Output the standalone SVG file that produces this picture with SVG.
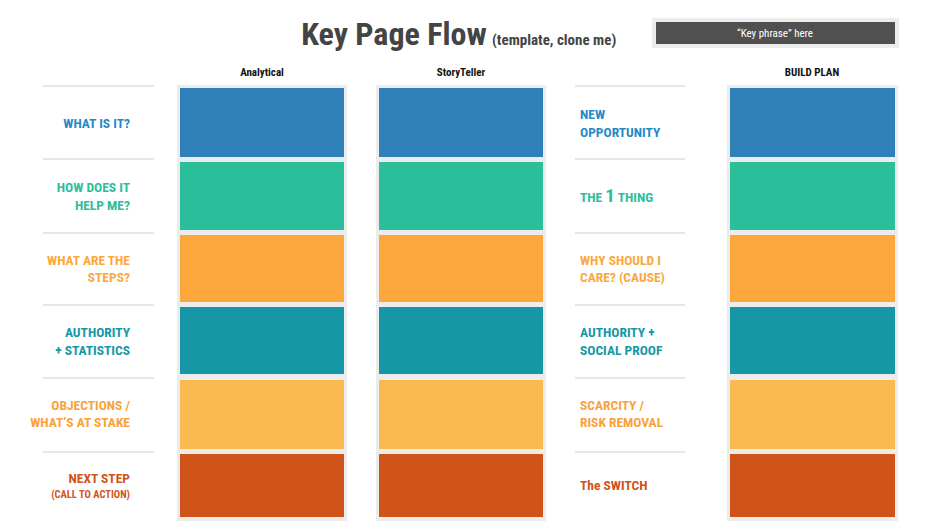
<svg xmlns="http://www.w3.org/2000/svg" width="936" height="525" viewBox="0 0 936 525">
<style>
text{font-family:"Liberation Sans Narrow","Roboto Condensed",Roboto,"Liberation Sans",sans-serif;font-weight:bold}
.sep{stroke:#e6e6e6;stroke-width:2}
.panel{fill:#ececec}
.l{font-size:13.5px;text-anchor:end}
.r{font-size:13.5px}
.h{font-size:11px;text-anchor:middle;fill:#111}
.b{fill:#2F80B8}.g{fill:#2BBE9B}.o{fill:#FBA73C}.t{fill:#1697A6}.y{fill:#FAB951}.d{fill:#D05419}
.cb{fill:#2589C8}.cg{fill:#2BBE9B}.co{fill:#FBA73C}.ct{fill:#1697A6}.cy{fill:#F9A23A}.cd{fill:#D05419}
</style>
<g id="title">
<text x="394" y="45" style="font-size:32px" text-anchor="middle" fill="#444">Key Page Flow</text>
<text x="492" y="45" style="font-size:15px" fill="#444">(template, clone me)</text>
</g>
<g id="keyphrase">
<rect x="652" y="18" width="247" height="30" fill="#ececec"/>
<rect x="656" y="22" width="239" height="22" fill="#505050"/>
<text x="775" y="37" style="font-size:11px;font-weight:normal" text-anchor="middle" fill="#fff">“Key phrase” here</text>
</g>
<g id="headers">
<text class="h" x="262" y="76">Analytical</text>
<text class="h" x="461" y="76">StoryTeller</text>
<text class="h" x="812" y="76">BUILD PLAN</text>
</g>
<g id="separators">
<path class="sep" d="M43 86H154M43 159H154M43 233H154M43 305H154M43 378H154M43 452H154M575 86H685M575 159H685M575 233H685M575 305H685M575 378H685M575 452H685"/>
</g>
<g id="left-labels">
<text class="l cb" x="130" y="128">WHAT IS IT?</text>
<text class="l cg" x="130" y="192">HOW DOES IT</text><text class="l cg" x="130" y="210">HELP ME?</text>
<text class="l co" x="130" y="265">WHAT ARE THE</text><text class="l co" x="130" y="282">STEPS?</text>
<text class="l ct" x="130" y="337">AUTHORITY</text><text class="l ct" x="130" y="355">+ STATISTICS</text>
<text class="l cy" x="130" y="410">OBJECTIONS /</text><text class="l cy" x="130" y="427">WHAT’S AT STAKE</text>
<text class="l cd" x="130" y="483">NEXT STEP</text><text class="l cd" x="130" y="498" style="font-size:10.5px">(CALL TO ACTION)</text>
</g>
<g id="right-labels">
<text class="r cb" x="580" y="119">NEW</text><text class="r cb" x="580" y="137">OPPORTUNITY</text>
<text class="r cg" x="580" y="202">THE <tspan style="font-size:19px">1</tspan> THING</text>
<text class="r co" x="580" y="265">WHY SHOULD I</text><text class="r co" x="580" y="282">CARE? (CAUSE)</text>
<text class="r ct" x="580" y="337">AUTHORITY +</text><text class="r ct" x="580" y="355">SOCIAL PROOF</text>
<text class="r cy" x="580" y="410">SCARCITY /</text><text class="r cy" x="580" y="427">RISK REMOVAL</text>
<text class="r cd" x="580" y="490">The SWITCH</text>
</g>
<g id="col-analytical">
<rect class="panel" x="177" y="85" width="170" height="436"/>
<rect class="b" x="180" y="88" width="164" height="69"/>
<rect class="g" x="180" y="162" width="164" height="68"/>
<rect class="o" x="180" y="235" width="164" height="67"/>
<rect class="t" x="180" y="307" width="164" height="67"/>
<rect class="y" x="180" y="380" width="164" height="69"/>
<rect class="d" x="180" y="454" width="164" height="63"/>
</g>
<g id="col-storyteller">
<rect class="panel" x="376" y="85" width="170" height="436"/>
<rect class="b" x="379" y="88" width="164" height="69"/>
<rect class="g" x="379" y="162" width="164" height="68"/>
<rect class="o" x="379" y="235" width="164" height="67"/>
<rect class="t" x="379" y="307" width="164" height="67"/>
<rect class="y" x="379" y="380" width="164" height="69"/>
<rect class="d" x="379" y="454" width="164" height="63"/>
</g>
<g id="col-buildplan">
<rect class="panel" x="727" y="85" width="171" height="436"/>
<rect class="b" x="730" y="88" width="165" height="69"/>
<rect class="g" x="730" y="162" width="165" height="68"/>
<rect class="o" x="730" y="235" width="165" height="67"/>
<rect class="t" x="730" y="307" width="165" height="67"/>
<rect class="y" x="730" y="380" width="165" height="69"/>
<rect class="d" x="730" y="454" width="165" height="63"/>
</g>
<g id="connectors"/>
</svg>
